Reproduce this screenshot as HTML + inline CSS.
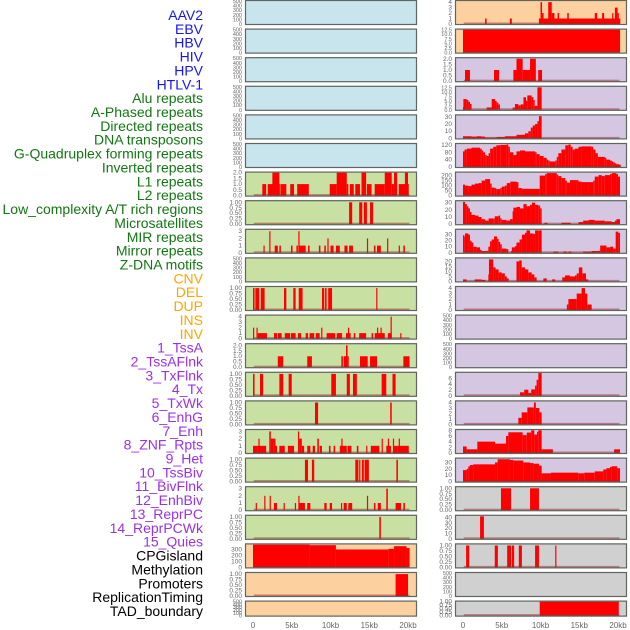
<!DOCTYPE html>
<html><head><meta charset="utf-8"><style>
html,body{margin:0;padding:0;background:#fff}
svg{display:block}
text{font-family:"Liberation Sans",sans-serif}
</style></head><body>
<svg id="chart" width="630" height="630" viewBox="0 0 630 630" xmlns="http://www.w3.org/2000/svg"></svg>
<script>
const labelNames=["AAV2","EBV","HBV","HIV","HPV","HTLV-1","Alu repeats","A-Phased repeats","Directed repeats","DNA transposons","G-Quadruplex forming repeats","Inverted repeats","L1 repeats","L2 repeats","Low_complexity A/T rich regions","Microsatellites","MIR repeats","Mirror repeats","Z-DNA motifs","CNV","DEL","DUP","INS","INV","1_TssA","2_TssAFlnk","3_TxFlnk","4_Tx","5_TxWk","6_EnhG","7_Enh","8_ZNF_Rpts","9_Het","10_TssBiv","11_BivFlnk","12_EnhBiv","13_ReprPC","14_ReprPCWk","15_Quies","CPGisland","Methylation","Promoters","ReplicationTiming","TAD_boundary"];
const labelGroups=[0,0,0,0,0,0,1,1,1,1,1,1,1,1,1,1,1,1,1,2,2,2,2,2,3,3,3,3,3,3,3,3,3,3,3,3,3,3,3,4,4,4,4,4];
const groupColors=["#1515f0","#117711","#ffa500","#9b30e8","#000000"];
const xTickKb=[0,5,10,15,20];
const xTickLabels=["0","5kb","10kb","15kb","20kb"];
const tick500=[0,100,200,300,400,500];

// segments: [startKb, endKb, value]
const L06=[[1.2,1.7,1],[1.9,2.6,1],[2.5,3.4,2],[3.4,3.5,1],[3.6,4.3,1],[4.8,5.3,1],[5.7,7.2,1],[9.9,10.8,1],[10.8,12.1,2],[12.1,12.3,1],[12.5,13,1],[13.2,13.8,1],[14,14.6,2],[14.7,15.3,1],[15.7,17,1],[17,17.9,2],[17.9,18.2,1],[18.2,18.6,2],[18.8,20.1,1],[19.6,20,2]];
const L07=[[12.4,12.8,1],[13.7,14.1,1],[14.3,14.7,1],[15.1,15.5,1]];
const L08=[[1.35,1.5,1],[2.1,2.25,3],[2.8,3.2,1],[3.4,3.6,1],[4.9,5.1,1],[5.6,5.8,1],[5.85,6,3],[6,6.8,1],[7.1,7.3,1],[8.5,8.7,1],[9.2,9.4,1],[9.6,9.75,2],[10,10.4,1],[10.7,11.2,1],[11.8,12.2,1],[12.4,12.9,1],[14.7,14.85,2],[15.6,15.8,1],[16,16.5,1],[17.3,17.45,2],[18.8,18.95,1],[19.4,19.6,1]];
const L10=[[0,0.2,1],[0.3,0.8,1],[1,1.5,1],[4,4.3,1],[5.2,5.5,1],[5.9,6.4,1],[8.9,9.2,1],[9.3,9.5,1],[9.7,10.2,1],[15.9,16.05,1]];
const L11=[[0,0.15,2],[0.45,0.6,2],[0.6,1.8,1],[2.7,3.1,1],[3.2,3.7,1],[4.1,4.8,1],[4.9,5.5,1],[5.8,6.2,1],[6.8,7.1,1],[7.3,7.9,1],[8.1,8.6,1],[8.8,8.95,2],[9.5,10.6,1],[10.8,11.5,1],[12,12.6,1],[12.25,12.4,2],[13,13.2,1],[13.7,14.6,1],[15.3,15.5,1],[15.7,17,1],[16,16.15,2],[16.45,16.6,2],[17.4,17.9,1],[17.75,17.9,4],[19,19.15,1]];
const L12=[[3.2,3.9,1],[7,7.6,1],[11.4,11.6,1],[11.7,12,1],[12,12.2,2],[12.2,12.35,1],[13.8,14.8,1],[15.1,16,1],[19.4,20.2,1]];
const L13=[[0,0.2,1],[0.9,1.3,1],[3.4,3.9,1],[4.6,5,1],[10.1,10.7,1],[12.1,12.5,1],[12.9,13.4,1],[16.6,17.2,1],[18,18.4,1]];
const L14=[[8,8.4,1],[17.7,17.9,1]];
const L15=[[0,0.6,1],[0.6,1.7,1],[0.7,0.8,2],[2.1,2.3,3],[2.3,2.6,2],[2.6,2.9,2],[2.9,3.1,1],[3.4,4.1,1],[4.5,5.3,1],[5.8,5.95,3],[5.95,6.3,2],[6.3,6.6,1],[7,7.4,1],[7.7,8,1],[8.3,8.5,2],[8.6,8.9,1],[9.8,10,1],[10.4,10.6,1],[11.2,12.1,1],[11.4,11.55,2],[12.2,12.7,1],[13.4,13.6,1],[14.6,14.75,1],[15.2,16.3,1],[16.6,16.75,2],[17.2,17.8,1],[17.4,17.55,2],[18.05,18.2,2],[18.2,18.6,1],[18.8,18.95,2],[18.6,20.1,1]];
const L16=[[6.7,7.1,1],[7.6,7.9,1],[13.2,13.6,1],[13.7,13.85,1],[14.05,14.3,1],[14.4,14.95,1],[18.5,18.7,1]];
const L17=[[0.35,0.5,1],[1.45,1.6,2],[2.15,2.3,2],[2.7,3.1,1],[3.95,4.1,1],[5.4,5.55,1],[5.85,6,2],[6,6.7,1],[7,7.4,1],[9.2,9.5,1],[9.9,10.2,1],[11.35,11.5,1],[11.7,12.1,1],[12.3,12.8,1],[14.7,14.85,2],[15.6,15.8,1],[16.1,16.5,1],[17.2,17.4,3],[18.4,19.1,1],[19.4,19.6,1]];
const L18=[[16.3,16.5,1]];
const L19=[[0,7.3,380],[7.3,10.7,372],[10.7,17.5,300],[17.5,18.2,310],[18.2,19.8,355],[19.8,20.2,325]];
const L20=[[18.4,20,1]];
const R00=[[2.85,3.05,1],[6.05,6.3,1],[9.8,20.3,1],[10,10.2,4],[10.2,10.4,2],[11,11.45,4],[11.45,11.8,2],[12.2,12.4,2],[13.45,13.65,2],[17,17.3,2],[17.95,18.2,2],[19.25,19.4,2],[19.6,19.95,3],[19.95,20.1,2]];
const R01=[[0,20.26,12.5]];
const R02=[[0.26,0.9,1],[4,4.65,1],[6.5,6.9,1],[6.9,7.7,2],[7.7,8.65,1],[8.65,9.4,2],[9.7,10.2,1]];
// steps: [startKb, value] held until next entry
const R03=[[0,1.5],[0.05,6],[0.47,5.5],[0.69,4.5],[0.9,3.3],[1.1,0],[3.05,1.3],[3.7,6],[4.13,5],[4.34,4],[4.56,3],[4.77,0],[6.4,1.2],[6.7,3.2],[7.14,2.5],[7.44,3],[7.8,7],[8.13,5],[8.3,8],[8.86,7],[9.08,5.5],[9.25,2.2],[9.6,12.5],[10.15,0]];
const R04=[[0,3],[1.1,2.5],[1.76,3],[2.4,2.5],[2.85,1],[4.34,2],[5.4,3],[6.9,5],[8,7],[8.43,10],[8.75,15],[9,18],[9.3,20],[9.6,24],[9.8,31],[10.15,0]];
const R05=[[0,85],[0.2,95],[0.5,100],[1.1,105],[2.2,100],[2.4,90],[2.6,80],[2.85,65],[3.05,60],[3.3,75],[3.5,100],[3.9,110],[4.3,118],[4.8,120],[5.6,122],[5.85,110],[6.05,80],[6.5,65],[6.9,85],[7.35,90],[8,85],[9.3,80],[9.5,70],[9.9,60],[10.4,50],[10.8,40],[11,35],[11.2,30],[11.9,35],[12.1,55],[12.3,75],[12.7,95],[13.2,118],[13.6,122],[13.9,110],[14.15,95],[14.45,100],[14.9,110],[15.3,112],[16.6,110],[16.8,95],[17.1,75],[17.4,55],[18.3,50],[18.5,40],[18.97,35],[19.2,30],[19.4,25],[19.6,20],[19.8,15],[20.2,12],[20.26,0]];
const R06=[[0,110],[0.26,100],[0.7,95],[1.1,110],[1.55,120],[2,125],[2.4,150],[2.85,165],[3.5,120],[3.7,80],[4.1,75],[4.3,65],[4.8,75],[5,90],[5.4,100],[5.65,125],[6.1,140],[6.9,135],[7.15,75],[7.6,68],[9.9,200],[10.6,215],[10.8,225],[12.1,210],[12.3,195],[12.7,175],[13.2,150],[13.4,130],[13.8,155],[14.7,155],[14.9,140],[15.3,135],[16.2,135],[16.8,150],[17,190],[17.5,205],[17.9,195],[18.3,205],[18.97,215],[19.2,225],[19.8,215],[20,190],[20.26,0]];
const R07=[[0,31],[0.26,28],[0.5,25],[0.7,22],[0.9,17],[1.1,13],[1.55,12],[2,10],[2.4,7],[2.85,5],[3.3,8],[3.9,8],[4.1,11],[4.6,12],[4.8,8],[5,6],[5.6,5],[6.06,7],[6.4,18],[6.5,23],[6.9,24],[7.35,22],[7.8,28],[8.2,25],[8.65,27],[8.9,30],[9.3,27],[9.7,26],[9.95,22],[10.15,0],[10.5,2],[10.9,0],[12.7,2],[13.9,0],[14.9,3],[15.5,5],[16.2,6],[17,5],[18.3,4],[19.2,3],[19.6,5],[19.8,7],[20.26,0]];
const R08=[[0,29],[0.17,27],[0.26,32],[0.7,30],[0.9,20],[1.1,17],[1.33,10],[1.76,9],[2.2,5],[2.4,3],[3.05,3],[3.27,10],[3.48,19],[3.7,22],[4,27],[4.4,23],[4.6,18],[4.8,14],[5,7],[5.6,6],[5.85,0],[6.2,3],[6.3,9],[6.7,11],[6.9,17],[7.3,22],[7.6,30],[8,33],[8.2,37],[8.65,32],[9.1,31],[9.3,37],[9.7,37],[10.15,0],[11.66,2],[12.3,0],[12.95,2],[13.4,0],[13.6,2],[14,0],[15.5,2],[16.6,3],[17.7,12],[18.5,9],[18.97,10],[19.4,7],[19.7,35],[20.04,33],[20.26,0]];
const R09=[[0,2],[0.47,0],[1.5,2],[2.4,1.5],[2.9,0],[3.27,7],[3.35,22],[3.9,14],[4.2,12],[4.6,9],[5,8],[5.4,5],[5.65,3],[5.9,0],[6.9,20],[7.25,21],[7.57,14],[8,12],[8.43,9],[8.86,7],[9.2,4],[9.5,0],[10.37,3],[10.8,0],[11.5,2],[11.9,0],[12.8,4],[13.16,6],[13.8,5],[14.45,6],[14.67,8],[14.95,14],[15.4,8],[15.87,2],[16.17,0]];
const R10=[[13.4,13.6,1],[13.6,14.67,2],[14.67,15.3,3],[15.3,15.74,4],[15.74,16.04,3],[16.04,16.6,1]];
const R13=[[7.35,7.9,1.2],[7.9,8.43,2.1],[8.43,8.8,1],[8.8,9.3,2.2],[9.3,9.5,3.5],[9.5,9.72,5.5],[9.72,10.15,7.8]];
const R14=[[7.14,7.57,1.2],[7.57,8.3,2.2],[8.3,9.15,3.1],[9.15,9.4,4],[9.4,9.85,3],[9.85,10.15,2.2]];
const R15=[[0,2.3],[0.47,1.3],[1.85,4],[4.13,3.3],[5.55,6],[5.85,7.3],[7.7,6.3],[8.22,7.2],[8.8,8],[9.2,6.5],[9.55,7.5],[9.72,8],[10.15,1.3],[11.6,0],[19.5,1.3],[20.26,0]];
const R16=[[0,18],[0.47,20],[0.69,24],[0.9,26],[1.33,27],[4.13,30],[4.47,35],[6.06,34],[6.5,33],[7.78,30],[8.65,29],[9.08,28],[9.8,25],[10.15,13],[11.35,14],[14.88,13],[15.65,14],[17,16],[18.1,19],[18.5,21],[18.97,23],[19.18,24],[19.9,21],[20.26,0]];
const R17=[[4.9,6.2,1],[8.65,9.8,1]];
const R18=[[2.2,2.7,42]];
const R19=[[0.4,0.8,1],[4.1,4.5,1],[5.7,6.2,1],[6.3,6.6,1],[7.2,7.6,1],[9.3,9.8,1],[11.9,12.05,1]];
const R21=[[9.9,20.1,1]];

const BLUE="#c8e4ec",GREEN="#c8e0a2",PEACH="#fdd0a0",LAV="#d5c6e2",GRAY="#d0d0d0";
// [row, col, bg, ymax, ticks, segments, steps]
const panels=[];
for(let r=0;r<6;r++) panels.push([r,0,BLUE,500,tick500,null,null]);
panels.push([6,0,GREEN,2,[0,0.5,1,1.5,2],L06,null]);
panels.push([7,0,GREEN,1.05,[0,0.25,0.5,0.75,1],L07,null]);
panels.push([8,0,GREEN,3.2,[0,1,2,3],L08,null]);
panels.push([9,0,GREEN,500,tick500,null,null]);
panels.push([10,0,GREEN,1.05,[0,0.25,0.5,0.75,1],L10,null]);
panels.push([11,0,GREEN,4.2,[0,1,2,3,4],L11,null]);
panels.push([12,0,GREEN,2.1,[0,0.5,1,1.5,2],L12,null]);
panels.push([13,0,GREEN,1.05,[0,0.25,0.5,0.75,1],L13,null]);
panels.push([14,0,GREEN,1.05,[0,0.25,0.5,0.75,1],L14,null]);
panels.push([15,0,GREEN,3.2,[0,1,2,3],L15,null]);
panels.push([16,0,GREEN,1.05,[0,0.25,0.5,0.75,1],L16,null]);
panels.push([17,0,GREEN,3.2,[0,1,2,3],L17,null]);
panels.push([18,0,GREEN,1.05,[0,0.25,0.5,0.75,1],L18,null]);
panels.push([19,0,PEACH,385,[0,100,200,300],L19,null]);
panels.push([20,0,PEACH,1.05,[0,0.25,0.5,0.75,1],L20,null]);
panels.push([21,0,PEACH,500,tick500,null,null]);
panels.push([0,1,PEACH,4.2,[0,1,2,3,4],R00,null]);
panels.push([1,1,PEACH,12.5,[0,2.5,5,7.5,10,12.5],R01,null]);
panels.push([2,1,LAV,2.05,[0,0.5,1,1.5,2],R02,null]);
panels.push([3,1,LAV,12.8,[0,2.5,5,7.5,10,12.5],null,R03]);
panels.push([4,1,LAV,32,[0,10,20,30],null,R04]);
panels.push([5,1,LAV,125,[0,40,80,120],null,R05]);
panels.push([6,1,LAV,230,[0,50,100,150,200],null,R06]);
panels.push([7,1,LAV,32,[0,10,20,30],null,R07]);
panels.push([8,1,LAV,38,[0,10,20,30],null,R08]);
panels.push([9,1,LAV,23,[0,5,10,15,20],null,R09]);
panels.push([10,1,LAV,4.2,[0,1,2,3,4],R10,null]);
panels.push([11,1,LAV,500,tick500,null,null]);
panels.push([12,1,LAV,500,tick500,null,null]);
panels.push([13,1,LAV,7.9,[0,2,4,6],R13,null]);
panels.push([14,1,LAV,4.2,[0,1,2,3,4],R14,null]);
panels.push([15,1,LAV,8.1,[0,2,4,6,8],null,R15]);
panels.push([16,1,LAV,36,[0,10,20,30],null,R16]);
panels.push([17,1,GRAY,1.05,[0,0.25,0.5,0.75,1],R17,null]);
panels.push([18,1,GRAY,43,[0,10,20,30,40],R18,null]);
panels.push([19,1,GRAY,1.05,[0,0.25,0.5,0.75,1],R19,null]);
panels.push([20,1,GRAY,500,tick500,null,null]);
panels.push([21,1,GRAY,1,[0,0.25,0.5,0.75,1],R21,null]);

const NS="http://www.w3.org/2000/svg";
const svg=document.getElementById('chart');
function mk(tag,attrs,parent){const e=document.createElementNS(NS,tag);for(const k in attrs)e.setAttribute(k,attrs[k]);(parent||svg).appendChild(e);return e;}
const colLeft=[245,455], panelW=172, zeroOff=8, kbPx=7.75;
function rowTop(r){return r*28.6;}
function rowH(r){return r===21?16:25;}
function xScale(col,kb){return colLeft[col]+zeroOff+kb*kbPx;}
function yScale(r,ymax,v){const t=rowTop(r)+1,h=rowH(r)-2;return t+h-(v/ymax)*h;}
function fmt(v,ticks){const dec=ticks.some(t=>t%1!==0)?(ticks.some(t=>(t*100)%10!==0)?2:1):0;return v.toFixed(dec);}

// labels
labelNames.forEach((n,i)=>{
  const t=mk('text',{x:203,y:15+i*13.86+5,'text-anchor':'end','font-size':'14',fill:groupColors[labelGroups[i]]});
  t.textContent=n;
  
  
});

panels.forEach(p=>{
  const [r,col,bg,ymax,ticks,segs,steps]=p;
  const g=mk('g',{});
  
  
  const top=rowTop(r),h=rowH(r);
  mk('rect',{x:colLeft[col],y:top,width:panelW,height:h,fill:bg},g);
  let list=[];
  if(segs) list=segs.slice();
  if(steps){for(let i=0;i<steps.length-1;i++){if(steps[i][1]>0)list.push([steps[i][0],steps[i+1][0],steps[i][1]]);}}
  list.forEach(s=>{
    const x0=xScale(col,s[0]),x1=xScale(col,s[1]);
    const y=yScale(r,ymax,Math.min(s[2],ymax));
    const b=mk('rect',{x:x0,y:y,width:Math.max(1.2,x1-x0),height:top+h-1-y,fill:'#ff0000'},g);
    
    
  });
  if(list.length){
    mk('rect',{x:xScale(col,0.1),y:top+h-2.5,width:xScale(col,20.2)-xScale(col,0.1),height:1.6,fill:'rgba(150,40,40,0.5)'},g);
  }
  mk('rect',{x:colLeft[col]+0.5,y:top+0.5,width:panelW-1,height:h-1,fill:'none',stroke:'#5f6660','stroke-width':'1.2'},g);
  const fs=ticks.length>5?5.5:6.5;
  ticks.forEach(tv=>{
    const t=mk('text',{x:colLeft[col]-3,y:yScale(r,ymax,tv)+2,'text-anchor':'end','font-size':fs,fill:'#666'},g);
    t.textContent=fmt(tv,ticks);
  });
});

// x axes
[0,1].forEach(col=>{
  xTickKb.forEach((kb,i)=>{
    const t=mk('text',{x:xScale(col,kb),y:628,'text-anchor':'middle','font-size':'8',fill:'#666'});
    t.textContent=xTickLabels[i];
    
    
  });
});
</script>
</body></html>
